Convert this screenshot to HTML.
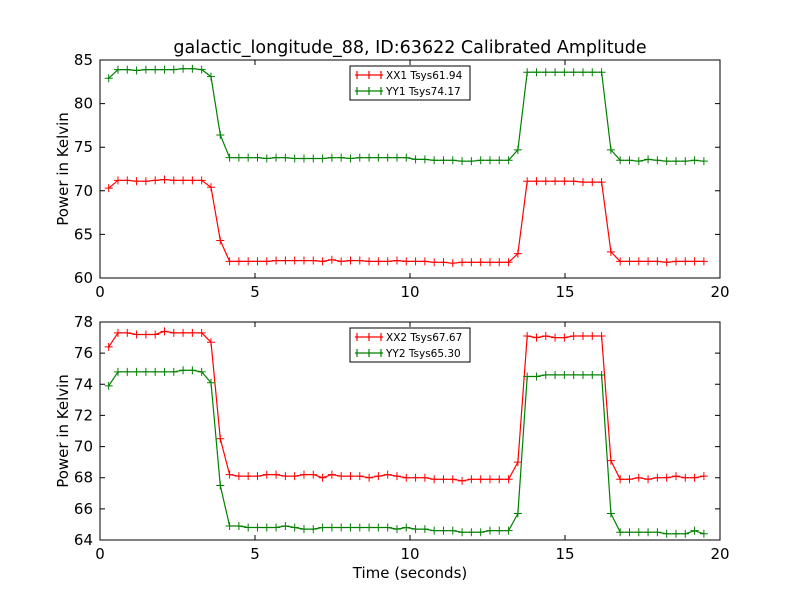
<!DOCTYPE html>
<html><head><meta charset="utf-8"><style>
body{margin:0;background:#fff;}
svg{display:block;font-family:"DejaVu Sans","Liberation Sans",sans-serif;}
</style></head><body>
<svg id="c" width="800" height="600" viewBox="0 0 800 600">
<rect width="800" height="600" fill="#fff"/>
<text x="410" y="53" font-size="17.5" text-anchor="middle">galactic_longitude_88, ID:63622 Calibrated Amplitude</text>
</svg>
<script>
const xx1 = [70.3,71.2,71.2,71.1,71.1,71.2,71.3,71.2,71.2,71.2,71.2,70.4,64.3,61.9,61.9,61.9,61.9,61.9,62.0,62.0,62.0,62.0,62.0,61.9,62.1,61.9,62.0,62.0,61.9,61.9,61.9,62.0,61.9,61.9,61.9,61.8,61.8,61.7,61.8,61.8,61.8,61.8,61.8,61.8,62.8,71.1,71.1,71.1,71.1,71.1,71.1,71.0,71.0,71.0,63.0,61.9,61.9,61.9,61.9,61.9,61.8,61.9,61.9,61.9,61.9];
const yy1 = [82.9,83.9,83.9,83.8,83.9,83.9,83.9,83.9,84.0,84.0,83.9,83.1,76.4,73.8,73.8,73.8,73.8,73.7,73.8,73.8,73.7,73.7,73.7,73.7,73.8,73.8,73.7,73.8,73.8,73.8,73.8,73.8,73.8,73.6,73.6,73.5,73.5,73.5,73.4,73.4,73.5,73.5,73.5,73.5,74.7,83.6,83.6,83.6,83.6,83.6,83.6,83.6,83.6,83.6,74.7,73.5,73.5,73.4,73.6,73.5,73.4,73.4,73.4,73.5,73.4];
const xx2 = [76.4,77.3,77.3,77.2,77.2,77.2,77.4,77.3,77.3,77.3,77.3,76.7,70.5,68.2,68.1,68.1,68.1,68.2,68.2,68.1,68.1,68.2,68.2,68.0,68.2,68.1,68.1,68.1,68.0,68.1,68.2,68.1,68.0,68.0,68.0,67.9,67.9,67.9,67.8,67.9,67.9,67.9,67.9,67.9,69.0,77.1,77.0,77.1,77.0,77.0,77.1,77.1,77.1,77.1,69.1,67.9,67.9,68.0,67.9,68.0,68.0,68.1,68.0,68.0,68.1];
const yy2 = [73.9,74.8,74.8,74.8,74.8,74.8,74.8,74.8,74.9,74.9,74.8,74.1,67.5,64.9,64.9,64.8,64.8,64.8,64.8,64.9,64.8,64.7,64.7,64.8,64.8,64.8,64.8,64.8,64.8,64.8,64.8,64.7,64.8,64.7,64.7,64.6,64.6,64.6,64.5,64.5,64.5,64.6,64.6,64.6,65.7,74.5,74.5,74.6,74.6,74.6,74.6,74.6,74.6,74.6,65.7,64.5,64.5,64.5,64.5,64.5,64.4,64.4,64.4,64.6,64.4];
const times = xx1.map((_, i) => 0.28 + 0.3 * i);
const xTicks = [0,5,10,15,20];
const topYTicks = [60,65,70,75,80,85];
const botYTicks = [64,66,68,70,72,74,76,78];
const topLegend = ["XX1 Tsys61.94","YY1 Tsys74.17"];
const botLegend = ["XX2 Tsys67.67","YY2 Tsys65.30"];

const NS = "http://www.w3.org/2000/svg";
const svg = document.getElementById('c');
function mk(tag, attrs, parent){const e=document.createElementNS(NS,tag);for(const k in attrs)e.setAttribute(k,attrs[k]);(parent||svg).appendChild(e);return e;}

function panel(top, ymin, ymax, yTicks, s1, s2, leg, pname, showXLabel){
  const L=100,R=720,T=top,B=top+218;
  const g=mk('g',{});
  
  
  const xs=t=>L+(t-0)/(20-0)*(R-L);
  const ys=v=>B-(v-ymin)/(ymax-ymin)*(B-T);
  const series=[[s1,'#ff0000',leg[0]],[s2,'#008000',leg[1]]];
  series.forEach(([d,col,nm])=>{
    const pts=d.map((v,i)=>xs(times[i]).toFixed(1)+','+ys(v).toFixed(1)).join(' ');
    const pl=mk('polyline',{points:pts,fill:'none',stroke:col,'stroke-width':1.2},g);
    
    
    d.forEach((v,i)=>{
      const x=xs(times[i]),y=ys(v);
      const m=mk('path',{d:`M${x-4},${y}H${x+4}M${x},${y-4}V${y+4}`,stroke:col,'stroke-width':1},g);
      
      
    });
  });
  const fr=mk('rect',{x:L,y:T,width:R-L,height:B-T,fill:'none',stroke:'#000','stroke-width':1},g);
  
  
  xTicks.forEach(t=>{
    const x=xs(t);
    mk('path',{d:`M${x},${B}v-5M${x},${T}v5`,stroke:'#000'},g);
    const tx=mk('text',{x:x,y:B+19,'font-size':15,'text-anchor':'middle'},g);
    tx.textContent=t;
    
    
  });
  yTicks.forEach(v=>{
    const y=ys(v);
    mk('path',{d:`M${L},${y}h5M${R},${y}h-5`,stroke:'#000'},g);
    const tx=mk('text',{x:L-7,y:y+5,'font-size':15,'text-anchor':'end'},g);
    tx.textContent=v;
    
    
  });
  const yl=mk('text',{x:0,y:0,'font-size':15,'text-anchor':'middle',transform:`translate(68,${(T+B)/2}) rotate(-90)`},g);
  yl.textContent='Power in Kelvin';
  
  
  const lg=mk('g',{},g);
  
  
  mk('rect',{x:350,y:T+6,width:120,height:34,fill:'#fff',stroke:'#000','stroke-width':1},lg);
  series.forEach(([d,col,nm],k)=>{
    const y=T+15+k*16;
    mk('path',{d:`M355,${y}h28M369,${y-4}v8M357,${y-4}v8M381,${y-4}v8`,stroke:col,'stroke-width':1.2},lg);
    const tx=mk('text',{x:386,y:y+4,'font-size':10.5},lg);
    tx.textContent=nm;
    
    
  });
  if(showXLabel){
    const xl=mk('text',{x:410,y:578,'font-size':15,'text-anchor':'middle'},g);
    xl.textContent='Time (seconds)';
    
    
  }
}
panel(60,60,85,topYTicks,xx1,yy1,topLegend,'top-panel',false);
panel(322,64,78,botYTicks,xx2,yy2,botLegend,'bottom-panel',true);
</script>
</body></html>
